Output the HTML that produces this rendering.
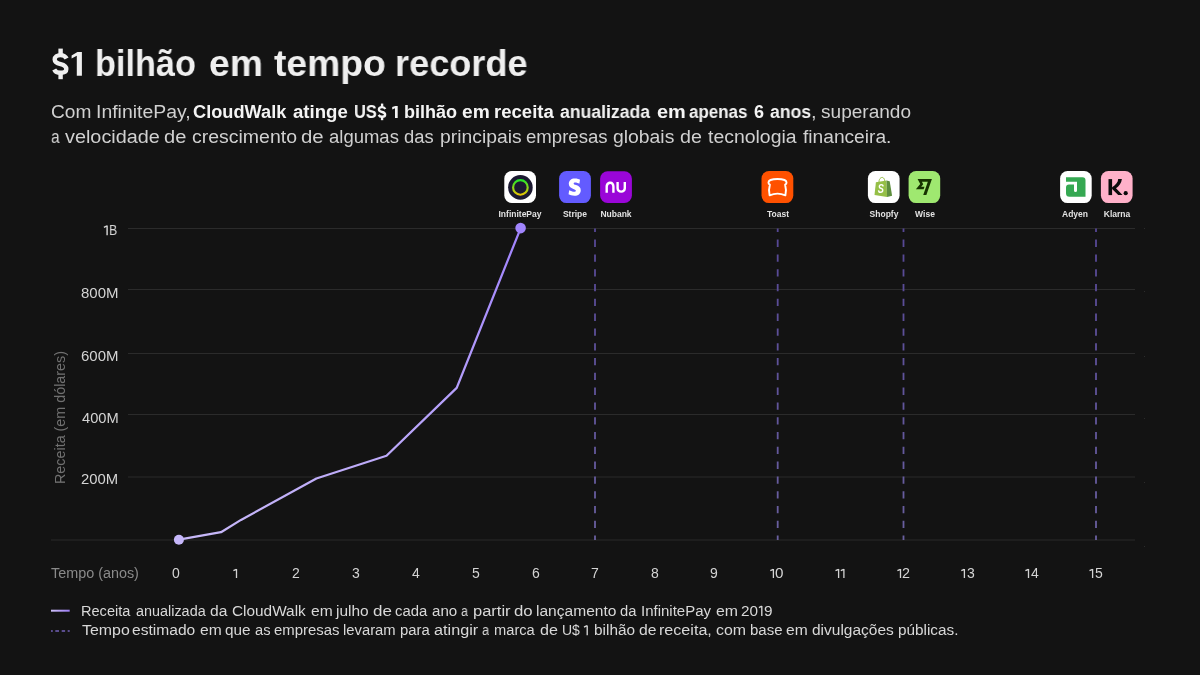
<!DOCTYPE html>
<html><head><meta charset="utf-8">
<style>
html,body{margin:0;padding:0;}
body{-webkit-font-smoothing:antialiased;width:1200px;height:675px;background:#131313;position:relative;overflow:hidden;font-family:"Liberation Sans",sans-serif;color:#eee;}
.a{position:absolute;white-space:nowrap;line-height:1;transform-origin:0 0;will-change:transform;}
.yl{font-size:14px;color:#d4d4d4;text-align:right;width:80px;left:37px;transform-origin:100% 0;transform:scaleX(1.05);}
.xl{font-size:14px;color:#d4d4d4;width:40px;text-align:center;top:566.2px;}
.lab{font-size:8.5px;font-weight:bold;color:#e2e2e2;width:60px;text-align:center;top:210.2px;transform-origin:50% 0;}
</style></head><body>
<div class="a" style="left:95.24px;top:44.99px;font-size:37.7px;font-weight:bold;color:#efefef;transform:scaleX(0.9093);">bilhão</div>
<div class="a" style="left:209.31px;top:44.99px;font-size:37.7px;font-weight:bold;color:#efefef;transform:scaleX(0.9897);">em</div>
<div class="a" style="left:273.83px;top:44.99px;font-size:37.7px;font-weight:bold;color:#efefef;transform:scaleX(0.9891);">tempo</div>
<div class="a" style="left:395.33px;top:44.99px;font-size:37.7px;font-weight:bold;color:#efefef;transform:scaleX(0.9595);">recorde</div>
<div class="a" style="left:50.79px;top:103.06px;font-size:18px;color:#d0d0d0;transform:scaleX(1.0625);">Com</div>
<div class="a" style="left:95.75px;top:103.06px;font-size:18px;color:#d0d0d0;transform:scaleX(1.0786);">InfinitePay,</div>
<div class="a" style="left:810.70px;top:103.06px;font-size:18px;color:#d0d0d0;transform:scaleX(1.1111);">,</div>
<div class="a" style="left:821.43px;top:103.06px;font-size:18px;color:#d0d0d0;transform:scaleX(1.0587);">superando</div>
<div class="a" style="left:51.08px;top:128.36px;font-size:18px;color:#d0d0d0;transform:scaleX(0.8547);">a</div>
<div class="a" style="left:65.00px;top:128.36px;font-size:18px;color:#d0d0d0;transform:scaleX(1.1017);">velocidade</div>
<div class="a" style="left:164.20px;top:128.36px;font-size:18px;color:#d0d0d0;transform:scaleX(1.1165);">de</div>
<div class="a" style="left:191.52px;top:128.36px;font-size:18px;color:#d0d0d0;transform:scaleX(1.0818);">crescimento</div>
<div class="a" style="left:301.18px;top:128.36px;font-size:18px;color:#d0d0d0;transform:scaleX(1.1327);">de</div>
<div class="a" style="left:328.96px;top:128.36px;font-size:18px;color:#d0d0d0;transform:scaleX(1.0273);">algumas</div>
<div class="a" style="left:403.96px;top:128.36px;font-size:18px;color:#d0d0d0;transform:scaleX(1.0209);">das</div>
<div class="a" style="left:439.54px;top:128.36px;font-size:18px;color:#d0d0d0;transform:scaleX(1.0734);">principais</div>
<div class="a" style="left:526.06px;top:128.36px;font-size:18px;color:#d0d0d0;transform:scaleX(1.0327);">empresas</div>
<div class="a" style="left:613.23px;top:128.36px;font-size:18px;color:#d0d0d0;transform:scaleX(1.0753);">globais</div>
<div class="a" style="left:679.91px;top:128.36px;font-size:18px;color:#d0d0d0;transform:scaleX(1.0949);">de</div>
<div class="a" style="left:708.11px;top:128.36px;font-size:18px;color:#d0d0d0;transform:scaleX(1.0794);">tecnologia</div>
<div class="a" style="left:803.11px;top:128.36px;font-size:18px;color:#d0d0d0;transform:scaleX(1.0643);">financeira.</div>
<div class="a" style="left:81.44px;top:604.15px;font-size:14px;color:#d8d8d8;transform:scaleX(1.0401);">Receita</div>
<div class="a" style="left:136.12px;top:604.15px;font-size:14px;color:#d8d8d8;transform:scaleX(1.0283);">anualizada</div>
<div class="a" style="left:210.18px;top:604.15px;font-size:14px;color:#d8d8d8;transform:scaleX(1.1148);">da</div>
<div class="a" style="left:232.23px;top:604.15px;font-size:14px;color:#d8d8d8;transform:scaleX(1.0977);">CloudWalk</div>
<div class="a" style="left:311.07px;top:604.15px;font-size:14px;color:#d8d8d8;transform:scaleX(1.1161);">em</div>
<div class="a" style="left:336.26px;top:604.15px;font-size:14px;color:#d8d8d8;transform:scaleX(1.1054);">julho</div>
<div class="a" style="left:372.62px;top:604.15px;font-size:14px;color:#d8d8d8;transform:scaleX(1.2136);">de</div>
<div class="a" style="left:395.20px;top:604.15px;font-size:14px;color:#d8d8d8;transform:scaleX(1.0630);">cada</div>
<div class="a" style="left:432.10px;top:604.15px;font-size:14px;color:#d8d8d8;transform:scaleX(1.0782);">ano</div>
<div class="a" style="left:461.30px;top:604.15px;font-size:14px;color:#d8d8d8;transform:scaleX(0.8929);">a</div>
<div class="a" style="left:472.81px;top:604.15px;font-size:14px;color:#d8d8d8;transform:scaleX(1.1786);">partir</div>
<div class="a" style="left:514.33px;top:604.15px;font-size:14px;color:#d8d8d8;transform:scaleX(1.1997);">do</div>
<div class="a" style="left:536.37px;top:604.15px;font-size:14px;color:#d8d8d8;transform:scaleX(1.1116);">lançamento</div>
<div class="a" style="left:620.11px;top:604.15px;font-size:14px;color:#d8d8d8;transform:scaleX(1.0547);">da</div>
<div class="a" style="left:640.95px;top:604.15px;font-size:14px;color:#d8d8d8;transform:scaleX(1.0714);">InfinitePay</div>
<div class="a" style="left:715.57px;top:604.15px;font-size:14px;color:#d8d8d8;transform:scaleX(1.1328);">em</div>
<div class="a" style="left:741.14px;top:604.15px;font-size:14px;color:#d8d8d8;transform:scaleX(1.0924);">20</div>
<div class="a" style="left:763.79px;top:604.15px;font-size:14px;color:#d8d8d8;transform:scaleX(1.0942);">9</div>
<svg class="a" style="left:0;top:0" width="1200" height="675"><path d="M758.9 607.6 L761.7 606.2 M761.8 605.9 V616" stroke="#d8d8d8" stroke-width="1.35" fill="none"/></svg>
<div class="a" style="left:81.88px;top:623.35px;font-size:14px;color:#d8d8d8;transform:scaleX(1.1370);">Tempo</div>
<div class="a" style="left:132.38px;top:623.35px;font-size:14px;color:#d8d8d8;transform:scaleX(1.1127);">estimado</div>
<div class="a" style="left:199.97px;top:623.35px;font-size:14px;color:#d8d8d8;transform:scaleX(1.1161);">em</div>
<div class="a" style="left:224.99px;top:623.35px;font-size:14px;color:#d8d8d8;transform:scaleX(1.0961);">que</div>
<div class="a" style="left:255.01px;top:623.35px;font-size:14px;color:#d8d8d8;transform:scaleX(1.0496);">as</div>
<div class="a" style="left:273.80px;top:623.35px;font-size:14px;color:#d8d8d8;transform:scaleX(1.0648);">empresas</div>
<div class="a" style="left:343.31px;top:623.35px;font-size:14px;color:#d8d8d8;transform:scaleX(1.0579);">levaram</div>
<div class="a" style="left:399.91px;top:623.35px;font-size:14px;color:#d8d8d8;transform:scaleX(1.0604);">para</div>
<div class="a" style="left:434.35px;top:623.35px;font-size:14px;color:#d8d8d8;transform:scaleX(1.1584);">atingir</div>
<div class="a" style="left:481.98px;top:623.35px;font-size:14px;color:#d8d8d8;transform:scaleX(0.9203);">a</div>
<div class="a" style="left:494.12px;top:623.35px;font-size:14px;color:#d8d8d8;transform:scaleX(1.0478);">marca</div>
<div class="a" style="left:539.56px;top:623.35px;font-size:14px;color:#d8d8d8;transform:scaleX(1.1512);">de</div>
<div class="a" style="left:561.74px;top:623.35px;font-size:14px;color:#d8d8d8;transform:scaleX(0.9784);">U$</div>
<div class="a" style="left:593.98px;top:623.35px;font-size:14px;color:#d8d8d8;transform:scaleX(1.0978);">bilhão</div>
<div class="a" style="left:638.67px;top:623.35px;font-size:14px;color:#d8d8d8;transform:scaleX(1.1234);">de</div>
<div class="a" style="left:659.43px;top:623.35px;font-size:14px;color:#d8d8d8;transform:scaleX(1.1502);">receita,</div>
<div class="a" style="left:716.06px;top:623.35px;font-size:14px;color:#d8d8d8;transform:scaleX(1.1356);">com</div>
<div class="a" style="left:749.60px;top:623.35px;font-size:14px;color:#d8d8d8;transform:scaleX(1.0697);">base</div>
<div class="a" style="left:786.38px;top:623.35px;font-size:14px;color:#d8d8d8;transform:scaleX(1.1161);">em</div>
<div class="a" style="left:811.68px;top:623.35px;font-size:14px;color:#d8d8d8;transform:scaleX(1.1064);">divulgações</div>
<div class="a" style="left:898.08px;top:623.35px;font-size:14px;color:#d8d8d8;transform:scaleX(1.0940);">públicas.</div>
<svg class="a" style="left:0;top:0" width="1200" height="675"><path d="M584 627.2 L587 625.7 M587.2 625.4 V635.2" stroke="#d8d8d8" stroke-width="1.35" fill="none"/></svg>
<div class="a" style="left:192.97px;top:103.06px;font-size:18px;font-weight:bold;color:#f4f4f4;transform:scaleX(1.0107);">CloudWalk</div>
<div class="a" style="left:293.14px;top:103.06px;font-size:18px;font-weight:bold;color:#f4f4f4;transform:scaleX(1.0340);">atinge</div>
<div class="a" style="left:353.82px;top:103.06px;font-size:18px;font-weight:bold;color:#f4f4f4;transform:scaleX(0.9087);">US</div>
<div class="a" style="left:404.22px;top:103.06px;font-size:18px;font-weight:bold;color:#f4f4f4;transform:scaleX(1.0019);">bilhão</div>
<div class="a" style="left:462.23px;top:103.06px;font-size:18px;font-weight:bold;color:#f4f4f4;transform:scaleX(1.0655);">em</div>
<div class="a" style="left:494.49px;top:103.06px;font-size:18px;font-weight:bold;color:#f4f4f4;transform:scaleX(1.0305);">receita</div>
<div class="a" style="left:560.47px;top:103.06px;font-size:18px;font-weight:bold;color:#f4f4f4;transform:scaleX(0.9790);">anualizada</div>
<div class="a" style="left:656.50px;top:103.06px;font-size:18px;font-weight:bold;color:#f4f4f4;transform:scaleX(1.1070);">em</div>
<div class="a" style="left:689.49px;top:103.06px;font-size:18px;font-weight:bold;color:#f4f4f4;transform:scaleX(0.9418);">apenas</div>
<div class="a" style="left:754.17px;top:103.06px;font-size:18px;font-weight:bold;color:#f4f4f4;transform:scaleX(0.9751);">6</div>
<div class="a" style="left:770.17px;top:103.06px;font-size:18px;font-weight:bold;color:#f4f4f4;transform:scaleX(0.9784);">anos</div>
<svg class="a" style="left:0;top:0" width="1200" height="675"><g transform="translate(377.7 105.9) scale(0.535 0.543) translate(-52.4 -52.9)" fill="#f4f4f4"><path d="M66.6 58.6 C65.4 56.2 63.3 55.1 60.5 55.1 C57.2 55.1 54.7 56.8 54.7 59.5 C54.7 62.3 57.3 63.3 60.6 64.1 C64 64.9 66.3 66.3 66.3 69.1 C66.3 71.6 63.9 72.8 60.5 72.8 C57.4 72.8 55.3 71.6 54.2 69.4" fill="none" stroke="#f4f4f4" stroke-width="4.4"/><rect x="58.4" y="48.6" width="4.4" height="6.5"/><rect x="58.4" y="72.8" width="4.4" height="6.4"/></g></svg>
<svg class="a" style="left:0;top:0" width="1200" height="675"><path d="M392.2 107.1 L395.3 105.9 H397.7 V117.9 H395 V108.3 L392.2 109.5 Z" fill="#f4f4f4"/></svg>
<div class="a" style="left:51.41px;top:566.15px;font-size:14px;color:#8a8a8a;transform:scaleX(1.0270);">Tempo (anos)</div>
<div class="a" style="left:52.95px;top:483.95px;font-size:14px;color:#707070;transform:rotate(-90deg) scaleX(1.0238);">Receita (em dólares)</div>
<svg class="a" style="left:0;top:0" width="1200" height="675" viewBox="0 0 1200 675">
  <defs>
    <linearGradient id="lg1" x1="0" y1="540" x2="0" y2="228" gradientUnits="userSpaceOnUse">
      <stop offset="0" stop-color="#c7b8f8"/>
      <stop offset="1" stop-color="#a083fd"/>
    </linearGradient>
    <linearGradient id="lgl" x1="51" y1="0" x2="70" y2="0" gradientUnits="userSpaceOnUse">
      <stop offset="0" stop-color="#cdc0f6"/>
      <stop offset="1" stop-color="#9b7bf3"/>
    </linearGradient>
    <linearGradient id="dash" x1="0" y1="228" x2="0" y2="540" gradientUnits="userSpaceOnUse">
      <stop offset="0" stop-color="#564795"/>
      <stop offset="1" stop-color="#6a60a0"/>
    </linearGradient>
    <linearGradient id="ring" x1="0" y1="179" x2="0" y2="196" gradientUnits="userSpaceOnUse">
      <stop offset="0" stop-color="#17e82a"/>
      <stop offset="0.5" stop-color="#88d618"/>
      <stop offset="1" stop-color="#f5c000"/>
    </linearGradient>
  </defs>
  <g stroke="#2b2b2b" stroke-width="1">
    <line x1="128" y1="228.5" x2="1135" y2="228.5"/>
    <line x1="128" y1="289.5" x2="1135" y2="289.5"/>
    <line x1="128" y1="353.5" x2="1135" y2="353.5"/>
    <line x1="128" y1="414.5" x2="1135" y2="414.5"/>
    <line x1="128" y1="477" x2="1135" y2="477"/>
    <line x1="51" y1="540" x2="1135" y2="540"/>
  </g>
  <g fill="#2c2c2c">
    <rect x="1144" y="228" width="1" height="1"/><rect x="1144" y="291" width="1" height="1"/>
    <rect x="1144" y="356" width="1" height="1"/><rect x="1144" y="418" width="1" height="1"/>
    <rect x="1144" y="482" width="1" height="1"/><rect x="1144" y="546" width="1" height="1"/>
  </g>
  <g stroke="url(#dash)" stroke-width="1.8" stroke-dasharray="7.3 7.5" stroke-dashoffset="3.6">
    <line x1="595" y1="228.4" x2="595" y2="540"/>
    <line x1="777.7" y1="228.4" x2="777.7" y2="540"/>
    <line x1="903.5" y1="228.4" x2="903.5" y2="540"/>
    <line x1="1096" y1="228.4" x2="1096" y2="540"/>
  </g>
  <polyline fill="none" stroke="url(#lg1)" stroke-width="2.25" stroke-linejoin="round" points="178.9,539.7 221,532.2 241,519.9 316.4,478.5 386.5,455.7 456.7,387.9 520.7,228.1"/>
  <circle cx="178.9" cy="539.7" r="5" fill="#c6b7fa"/>
  <circle cx="520.6" cy="228.1" r="5.3" fill="#a185fd"/>
  <line x1="51" y1="610.7" x2="69.7" y2="610.7" stroke="url(#lgl)" stroke-width="2"/>
  <g fill="#5a4d8e"><rect x="51" y="630" width="1.8" height="2"/><rect x="55.3" y="630" width="3.7" height="2"/><rect x="61.7" y="630" width="3.4" height="2"/><rect x="67.7" y="630" width="2" height="2"/></g>

  <!-- logos -->
  <rect x="504.3" y="171.1" width="31.7" height="31.9" rx="7.5" fill="#ffffff"/>
  <circle cx="520.4" cy="187.4" r="12.3" fill="#1b1931"/>
  <circle cx="520.4" cy="187.4" r="7.3" fill="none" stroke="url(#ring)" stroke-width="2.15"/>

  <rect x="559.1" y="171.1" width="31.8" height="32" rx="7.5" fill="#635bff"/>
  <path transform="translate(566.1 178.6) scale(0.713)" fill="#fff" d="M13.976 9.15c-2.172-.806-3.356-1.426-3.356-2.409 0-.831.683-1.305 1.901-1.305 2.227 0 4.515.858 6.09 1.631l.89-5.494C18.252.975 15.697 0 12.165 0 9.667 0 7.589.654 6.104 1.872 4.56 3.147 3.757 4.992 3.757 7.218c0 4.039 2.467 5.760 6.476 7.219 2.585.92 3.445 1.574 3.445 2.583 0 .98-.84 1.545-2.354 1.545-1.875 0-4.965-.921-6.99-2.109l-.9 5.555C5.175 22.990 8.385 24 11.714 24c2.641 0 4.843-.624 6.328-1.813 1.664-1.305 2.525-3.236 2.525-5.732 0-4.128-2.524-5.851-6.594-7.305h.003z"/>

  <rect x="600.1" y="171.2" width="31.8" height="31.8" rx="7.5" fill="#9a06d8"/>
  <path fill="#fff" d="M605.5 192.8 V186.6 C605.5 183.3 607.8 181.5 610.3 181.5 C613 181.5 614.6 183.5 614.6 186.6 V192.8 H612.2 V186.7 C612.2 185 611.5 183.9 610.3 183.9 C609 183.9 607.9 185.2 607.9 186.9 V192.8 Z M616.4 182 H618.8 V188 C618.8 189.6 619.7 190.4 621.2 190.4 C622.7 190.4 623.6 189.5 623.6 188 V182 H626 V188.2 C626 191 624 192.8 621.2 192.8 C618.4 192.8 616.4 191 616.4 188.2 Z"/>

  <rect x="761.5" y="171.1" width="31.8" height="32" rx="7.5" fill="#ff5100"/>
  <path fill="none" stroke="#fff" stroke-width="1.9" stroke-linejoin="round" d="M769.9 184.6 C769.0 187.5 768.9 192 769.6 195.3 C774.5 193.2 780.5 193.2 785.4 195.3 C786.1 192 786.0 187.5 785.1 184.6 C787.2 183.6 787 181 784.5 180 C781 178.6 774 178.6 770.5 180 C768 181 767.8 183.6 769.9 184.6 Z"/>

  <rect x="867.9" y="171.1" width="31.7" height="32" rx="7.5" fill="#ffffff"/>
  <path fill="#95bf47" d="M875.9 182.3 L886.5 180.5 L887.1 197 L874.5 195.1 Z"/>
  <path fill="#5e8e3e" d="M886.5 180.5 L889.7 181.3 L892.1 195.7 L887.1 197 Z"/>
  <path fill="none" stroke="#95bf47" stroke-width="1" d="M879 182 C879 178 882 176.5 883.5 178 C884.5 179 884.6 180 884.6 181"/>
  <text transform="translate(880.9 193.1) scale(0.72 1)" x="0" y="0" font-family="Liberation Sans" font-weight="bold" font-style="italic" font-size="12.8" fill="#fff" text-anchor="middle">S</text>

  <rect x="908.6" y="171.1" width="31.6" height="32" rx="7.5" fill="#9fe870"/>
  <path transform="translate(915.9 178.7) scale(0.667 0.70)" fill="#163300" d="M6.488 7.469 0 15.05h11.585l1.301-3.576H7.922l3.033-3.507.01-.092L8.993 4.48h8.873l-6.878 18.925h4.706L24 .595H2.543l3.945 6.874Z"/>

  <rect x="1060.1" y="171.1" width="31.6" height="32" rx="7.5" fill="#ffffff"/>
  <path fill="#35a852" d="M1066 177.3 H1082.5 A3 3 0 0 1 1085.5 180.3 V196.7 H1069.5 A3.5 3.5 0 0 1 1066 193.2 V187.5 A3 3 0 0 1 1069 184.5 H1074 V190.5 A1.5 1.5 0 0 0 1077 190.5 V181.8 H1066 Z"/>

  <rect x="1100.9" y="171.1" width="31.7" height="32" rx="7.5" fill="#ffb1c9"/>
  <rect x="1108.5" y="179.1" width="3.6" height="16" fill="#0b0b0b"/>
  <path fill="#0b0b0b" d="M1118.2 179.1 H1121.9 C1121.5 183 1119.2 186.3 1116 188.3 L1122.5 195.1 H1118.2 L1112.1 189 V187.2 C1115.6 185.2 1118 182.5 1118.2 179.1 Z"/>
  <circle cx="1125.7" cy="193.2" r="2.1" fill="#0b0b0b"/>
</svg>
<div class="a" style="left:80.90px;top:285.85px;font-size:14px;color:#d4d4d4;transform:scaleX(1.0714);">800M</div>
<div class="a" style="left:80.95px;top:348.85px;font-size:14px;color:#d4d4d4;transform:scaleX(1.0699);">600M</div>
<div class="a" style="left:81.71px;top:410.85px;font-size:14px;color:#d4d4d4;transform:scaleX(1.0476);">400M</div>
<div class="a" style="left:81.26px;top:472.15px;font-size:14px;color:#d4d4d4;transform:scaleX(1.0609);">200M</div>
<div class="a xl" style="left:155.50px">0</div>
<div class="a xl" style="left:275.50px">2</div>
<div class="a xl" style="left:335.50px">3</div>
<div class="a xl" style="left:395.50px">4</div>
<div class="a xl" style="left:455.50px">5</div>
<div class="a xl" style="left:515.50px">6</div>
<div class="a xl" style="left:574.70px">7</div>
<div class="a xl" style="left:634.50px">8</div>
<div class="a xl" style="left:694.40px">9</div>
<div class="a" style="left:775.39px;top:566.15px;font-size:14px;color:#d4d4d4;transform:scaleX(1.0863);">0</div>
<div class="a" style="left:902.38px;top:566.15px;font-size:14px;color:#d4d4d4;transform:scaleX(1.0248);">2</div>
<div class="a" style="left:966.65px;top:566.15px;font-size:14px;color:#d4d4d4;transform:scaleX(0.9878);">3</div>
<div class="a" style="left:1030.62px;top:566.15px;font-size:14px;color:#d4d4d4;transform:scaleX(0.9944);">4</div>
<div class="a" style="left:1094.96px;top:566.15px;font-size:14px;color:#d4d4d4;transform:scaleX(0.9673);">5</div>
<div class="a" style="left:109.41px;top:223.35px;font-size:14px;color:#d4d4d4;transform:scaleX(0.8862);">B</div>
<svg class="a" style="left:0;top:0" width="1200" height="675"><path d="M71.6 55.4 L77.4 52 H81.9 V75.7 H76.8 V55.7 L71.6 58.6 Z" fill="#efefef"/><path d="M66.6 58.6 C65.4 56.2 63.3 55.1 60.5 55.1 C57.2 55.1 54.7 56.8 54.7 59.5 C54.7 62.3 57.3 63.3 60.6 64.1 C64 64.9 66.3 66.3 66.3 69.1 C66.3 71.6 63.9 72.8 60.5 72.8 C57.4 72.8 55.3 71.6 54.2 69.4" fill="none" stroke="#efefef" stroke-width="4.4"/><rect x="58.4" y="48.6" width="4.4" height="6.5" fill="#efefef"/><rect x="58.4" y="72.8" width="4.4" height="6.4" fill="#efefef"/></svg>
<svg class="a" style="left:0;top:0" width="1200" height="675"><path d="M233.40 570.7 L236.40 569.3 M236.50 568.9 V578 M770.30 570.7 L773.30 569.3 M773.40 568.9 V578 M835.50 570.7 L838.50 569.3 M838.60 568.9 V578 M840.80 570.7 L843.80 569.3 M843.90 568.9 V578 M897.40 570.7 L900.40 569.3 M900.50 568.9 V578 M961.30 570.7 L964.30 569.3 M964.40 568.9 V578 M1025.40 570.7 L1028.40 569.3 M1028.50 568.9 V578 M1089.50 570.7 L1092.50 569.3 M1092.60 568.9 V578 " stroke="#d4d4d4" stroke-width="1.3" fill="none"/><path d="M103.9 227.4 L107 225.9 M107.1 225.6 V235.2" stroke="#d4d4d4" stroke-width="1.45" fill="none"/></svg>
<div class="a lab" style="left:490.35px">InfinitePay</div>
<div class="a lab" style="left:544.80px">Stripe</div>
<div class="a lab" style="left:585.65px">Nubank</div>
<div class="a lab" style="left:747.80px">Toast</div>
<div class="a lab" style="left:853.80px">Shopfy</div>
<div class="a lab" style="left:894.50px">Wise</div>
<div class="a lab" style="left:1045.25px">Adyen</div>
<div class="a lab" style="left:1086.95px">Klarna</div>
</body></html>
